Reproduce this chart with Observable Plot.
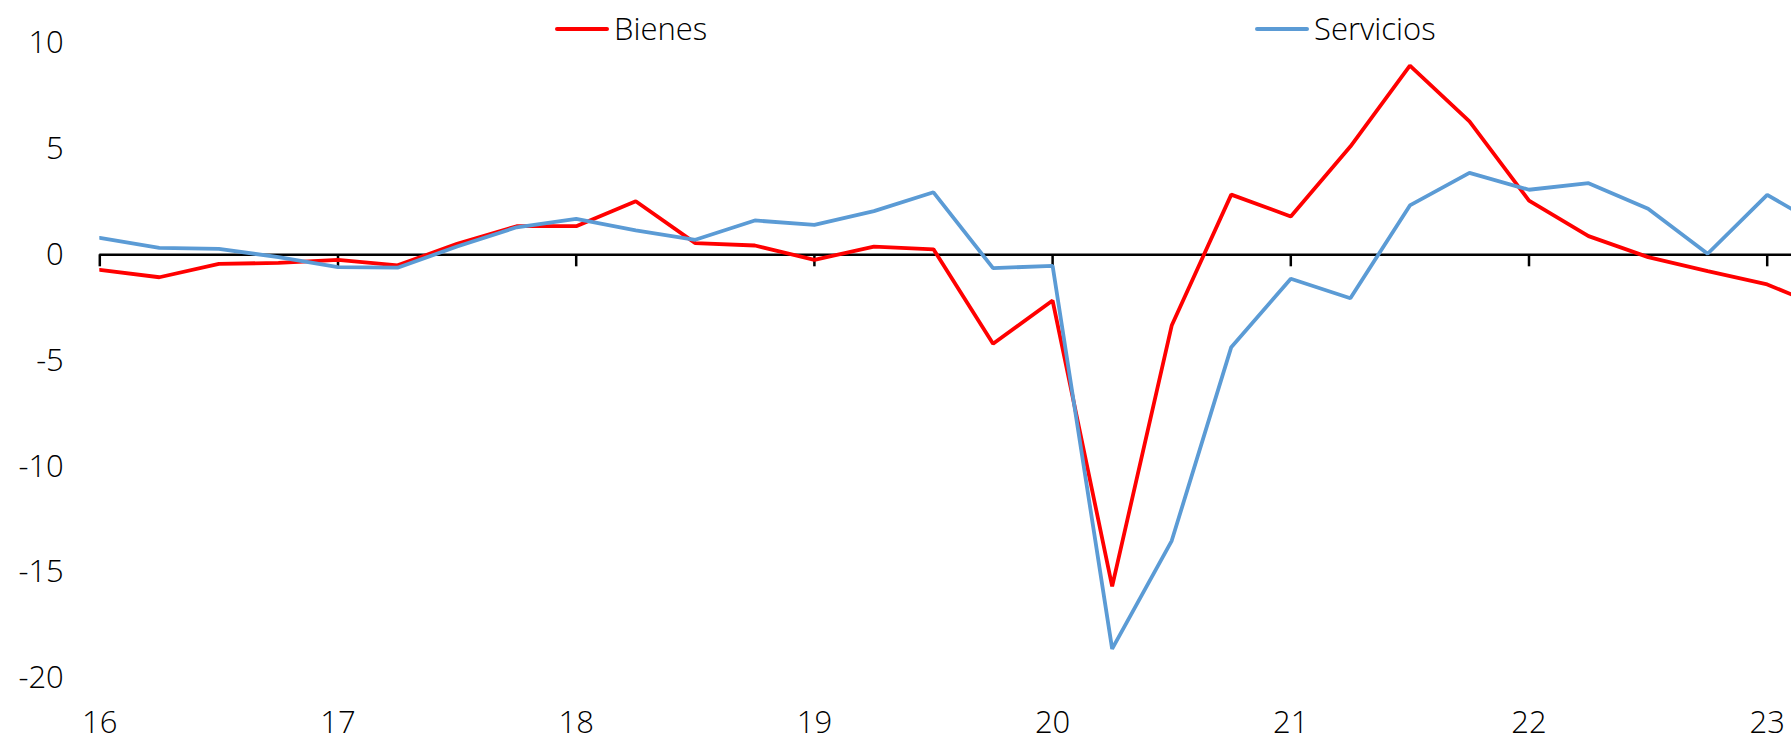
<!DOCTYPE html>
<html><head><meta charset="utf-8">
<script src="https://cdn.jsdelivr.net/npm/d3@7"></script>
<script src="https://cdn.jsdelivr.net/npm/@observablehq/plot@0.6"></script>
<style>
html,body{margin:0;padding:0;background:#fff;overflow:hidden}
#wrap{position:relative;width:1791px;height:742px}
.legend{position:absolute;top:0;left:0;width:1791px;height:60px;font-family:"Open Sans",sans-serif;font-weight:300;font-size:31px;color:#000;pointer-events:none}
.item{position:absolute;top:7px;height:43px;line-height:43px;display:flex;align-items:center;white-space:nowrap}
.swatch{display:inline-block;width:54px;height:4px;border-radius:2px;margin-right:5px}
</style></head><body><div id="wrap"></div>
<script>
// Quarters (year-2000 + quarter fraction), 2016Q1 .. 2023Q2
const quarters = [16,16.25,16.5,16.75,17,17.25,17.5,17.75,18,18.25,18.5,18.75,19,19.25,19.5,19.75,20,20.25,20.5,20.75,21,21.25,21.5,21.75,22,22.25,22.5,22.75,23,23.25];
const bienes = [-0.71,-1.06,-0.43,-0.38,-0.24,-0.50,0.52,1.35,1.35,2.53,0.55,0.44,-0.24,0.39,0.26,-4.2,-2.16,-15.65,-3.34,2.84,1.81,5.11,8.93,6.30,2.56,0.88,-0.11,-0.77,-1.40,-2.55];
const servicios = [0.80,0.33,0.28,-0.11,-0.58,-0.61,0.39,1.30,1.70,1.15,0.71,1.62,1.41,2.06,2.95,-0.63,-0.52,-18.6,-13.5,-4.36,-1.13,-2.05,2.33,3.87,3.07,3.38,2.17,0.05,2.83,1.2];
const seriesNames = ["Bienes","Servicios"];
const seriesColors = ["#FF0000","#5B9BD5"];
const yearTicks = [16,17,18,19,20,21,22,23];
const yTicks = [10,5,0,-5,-10,-15,-20];

const rows = [];
[bienes, servicios].forEach((vals, s) => {
  vals.forEach((v, i) => rows.push({series: seriesNames[s], x: quarters[i], value: v}));
});

const chart = Plot.plot({
  width: 1791,
  height: 742,
  marginLeft: 99.3,
  marginRight: 0,
  marginTop: 42.45,
  marginBottom: 64,
  style: {fontFamily: '"Open Sans", sans-serif', fontSize: "31px", fontWeight: 300, color: "#000", background: "#fff"},
  x: {domain: [16, 23.102], ticks: yearTicks, tickFormat: d => String(d), tickSize: 0, tickPadding: 32, label: null},
  y: {domain: [-20, 10], ticks: yTicks, tickFormat: d => String(d), tickSize: 0, tickPadding: 36, label: null},
  color: {domain: seriesNames, range: seriesColors},
  marks: [
    Plot.ruleY([0], {stroke: "#000", strokeWidth: 2.5}),
    Plot.ruleX(yearTicks, {x: d => d, y1: 0, y2: 0, insetBottom: -12, stroke: "#000", strokeWidth: 2.5}),
    Plot.line(rows, {x: "x", y: "value", z: "series", stroke: "series", strokeWidth: 3.8, clip: true, strokeLinejoin: "miter"})
  ]
});

const wrap = document.getElementById("wrap");
chart.style.display = "block";
wrap.appendChild(chart);

const legend = document.createElement("div");
legend.className = "legend";
const legendLeft = [555, 1255];
seriesNames.forEach((name, i) => {
  const item = document.createElement("div");
  item.className = "item";
  item.style.left = legendLeft[i] + "px";
  const sw = document.createElement("span");
  sw.className = "swatch";
  sw.style.background = seriesColors[i];
  const tx = document.createElement("span");
  tx.textContent = name;
  item.appendChild(sw);
  item.appendChild(tx);
  legend.appendChild(item);
});
wrap.appendChild(legend);
</script>
</body></html>
